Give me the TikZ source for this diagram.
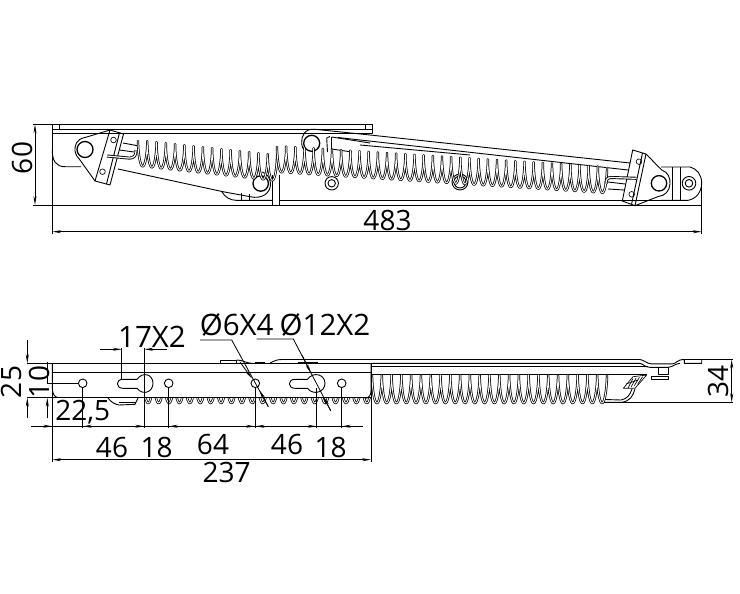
\documentclass[tikz,border=0pt]{standalone}
\usepackage{fontspec}
\setmainfont{Open Sans}
\usetikzlibrary{arrows.meta}
\tikzset{
	part/.style={line width=0.9pt, line join=round},
	fine/.style={line width=0.65pt, line join=round},
	extline/.style={line width=0.8pt},
	dimline/.style={line width=0.8pt, {Stealth[length=9pt,width=3pt]}-{Stealth[length=9pt,width=3pt]}},
	dimarrow/.style={line width=0.8pt, -{Stealth[length=9pt,width=3pt]}},
	dimtext/.style={font=\fontsize{28}{28}\selectfont, inner sep=0pt},
	widetext/.style={font=\fontsize{29.5}{29.5}\selectfont, inner sep=0pt},
	coil/.style={line width=0.75pt, double=white, double distance=0.9pt, line join=round}
}
\newcommand{\coilspring}[6]{
	\draw[coil] plot[domain=0:360*#5, samples=36*#5+1, variable=\t]
		({#1+\t/(360*#5)*(#3-#1)-1.6*sin(\t)}, {#2+\t/(360*#5)*(#4-#2)-#6*cos(\t)});
}
\begin{document}
\begin{tikzpicture}[x=1pt,y=-1pt]
	\useasboundingbox (0,0) rectangle (740,594);

	\draw[part] (52.3,124.3) rectangle (372,133);
	\draw[part] (52.3,129) -- (372,129);
	\draw[part] (59.3,124.3) -- (59.3,129);
	\draw[part] (365,124.3) -- (365,129);
	\draw[part] (52.3,133) -- (52.3,205);
	\draw[part] (52.3,150) .. controls (52.3,161) and (56,166.7) .. (65,166.7) -- (81,166.7);
	\draw[part] (52.3,205) -- (702,205);

	\draw[part] (222,192) .. controls (225,197) and (230,200.3) .. (236,200.3) -- (272.3,200.3);
	\draw[part] (241,193) -- (241,200.3);
	\draw[part] (249,194) -- (249,200.3);
	\draw[part] (272.3,175) -- (272.3,205);
	\draw[part] (279.3,175) -- (279.3,205);
	\draw[part] (279.3,200.3) -- (688,200.3);

	\draw[part] (118,169) -- (223,191.7) -- (250,196.7) .. controls (262,199.5) and (271,193) .. (270.5,183.3) .. controls (270,177) and (266,173) .. (262,172);
	\draw[part, line width=1.3pt] (260.7,183.5) circle (7.7);

	\draw[part] (110,130) -- (85,137.5) .. controls (76,139) and (74.5,146) .. (75,151) .. controls (76,155) and (77.5,158) .. (80,160) -- (95,181);
	\draw[part] (110,130) -- (123.5,134) -- (110,185) -- (95,181) -- cycle;
	\draw[part] (119.5,132.8) -- (106.5,184);
	\draw[part, line width=1.3pt] (85,149.5) circle (8);
	\draw[fine] (113.5,140) circle (2.8);
	\draw[fine] (102.5,171.7) circle (2.8);
	\draw[part] (123,143) -- (139,146);
	\draw[part] (119.5,150) -- (134,152);
	\draw[part, double=white, double distance=1.2pt] (107,156) -- (128,158) .. controls (135,158.5) and (136,155) .. (136,150);

	\draw[part] (315,129.3) -- (370,135) -- (630,163);
	\draw[part] (338,137.5) -- (628,170);
	\draw[part] (360,145) -- (470,155);
	\draw[part] (315,129.3) .. controls (305,128) and (301,136) .. (301.7,143) .. controls (302,147) and (303,149) .. (305,151);
	\draw[part, line width=1.3pt] (311.7,143.3) circle (8);
	\draw[part] (330,136.5) -- (326.7,138) -- (327.5,152);
	\draw[part] (331.7,137) -- (331.7,150);
	\draw[part] (331.7,137) -- (370,143);
	\draw[part] (331.7,149) -- (352,152);
	\draw[part] (331.7,183.3) circle (6.7);
	\draw[part] (331.7,183.3) circle (3.7);
	\draw[part] (460,182) circle (8);
	\draw[part] (460,182) circle (6);

	\coilspring{138}{153}{277}{168}{15}{12.8}
	\coilspring{277}{159}{607}{180}{36}{13}

	\draw[part] (646,154) -- (661.7,170) .. controls (668,172) and (670.5,178) .. (670,184) .. controls (669.5,191) and (665,196) .. (658.3,196.5) -- (635,205.7);
	\draw[part] (632.7,150) -- (646,154) -- (635,205.7) -- (622.3,201) -- cycle;
	\draw[part] (642.5,153) -- (631.5,204.5);
	\draw[part, line width=1.3pt] (659,183.3) circle (7.7);
	\draw[fine] (639,161.7) circle (2.8);
	\draw[fine] (631.7,194.3) circle (2.8);
	\draw[part, double=white, double distance=1.2pt] (636.5,178.3) -- (611,177.5) .. controls (607,177.5) and (606,180) .. (606,184);
	\draw[part] (608,182) -- (625,184);
	\draw[part] (608,189) -- (624,190);
	\draw[part] (661,167) -- (690,167) .. controls (697,168.5) and (701.7,175) .. (701.7,183) .. controls (701.7,192) and (696,199) .. (688,200.3) -- (661,200.3);
	\draw[part] (672.3,167) -- (672.3,200.3);
	\draw[part] (680.7,167) -- (680.7,200.3);
	\draw[part] (689,183.3) circle (6.8);
	\draw[part] (689,183.3) circle (3.8);

	\draw[extline] (33,124.3) -- (52.3,124.3);
	\draw[extline] (33,205) -- (52.3,205);
	\draw[extline] (52.3,205) -- (52.3,234);
	\draw[extline] (701.7,183) -- (701.7,234);
	\draw[dimline] (35,124.3) -- (35,205);
	\draw[dimline] (52.3,231.7) -- (701.7,231.7);
	\node[dimtext, rotate=90] (heighttext) at (22,158) {60};
	\node[dimtext] (widthtext) at (387.5,220) {483};

	\draw[part] (27,363.3) -- (371,363.3);
	\draw[part] (52.3,372.3) -- (371,372.3);
	\draw[part] (27,397.7) -- (372,397.7);
	\draw[part] (52.3,363.3) -- (52.3,388) .. controls (52.3,393) and (54,397) .. (58,397.7);
	\draw[part] (371,363.3) -- (371,391) .. controls (371,395) and (369,398) .. (365,398.5);
	\draw[part] (371,366.7) -- (648,366.7);
	\draw[part] (371,374.3) -- (646.7,374.3);
	\draw[part] (220,360) rectangle (236.7,363.3);
	\draw[part] (236.7,360) .. controls (243,360) and (246,363.3) .. (252,363.3);
	\draw[part, line width=1.6pt] (255,362.4) -- (265,362.4);
	\draw[part] (270,363) .. controls (274,361) and (277,359.5) .. (281.7,359.5) -- (640,359.5) .. controls (644,360) and (647,363.8) .. (651,363.8) -- (672.7,363.8) .. controls (676,363.8) and (677,359.5) .. (684.3,359.5) -- (701.7,359.5) -- (701.7,363.3) -- (684.3,363.3) -- (684.3,359.5);
	\draw[part, line width=1.6pt] (298,362.4) -- (317.7,362.4);
	\draw[part] (371,363.3) -- (640,363.3) .. controls (643,364) and (645,367.3) .. (650,367.3) -- (668.3,367.3) .. controls (672,367.3) and (676,363.3) .. (680,363.3);
	\draw[part] (658.3,367.3) -- (658.3,374.3) -- (668.3,374.3) -- (668.3,367.3);
	\draw[part] (651.7,376) rectangle (668.3,379.3);

	\draw[fine] (633,376.7) -- (646.7,375) -- (635,388.3) -- (623.3,388.3) -- cycle;
	\foreach \i in {0,1,2,3} {
		\draw[fine] (628+\i*3.2,388-\i*1.2) -- (633+\i*3.2,378.5-\i*0.6);
	}
	\draw[fine] (626,384) -- (638,380);
	\draw[part] (605,399.5) -- (621,400) .. controls (627,399) and (630,395) .. (632,389);
	\draw[part] (605,402.3) -- (622,402.3) .. controls (630,401) and (633,396) .. (635,389);

	\draw[part] (600,402.3) -- (733,402.3);
	\draw[extline] (701.7,359.5) -- (733,359.5);

	\draw[part] (82.7,383.3) circle (4.3);
	\draw[part] (168.7,383.3) circle (4.3);
	\draw[part] (255.3,383.3) circle (4.3);
	\draw[part] (341.7,383.3) circle (4.3);
	\draw[part] (137,379.3) -- (123,379.3) .. controls (115.5,379.3) and (115.5,388.3) .. (123,388.3) -- (137,388.3) .. controls (143,396) and (153,392) .. (153,383.3) .. controls (153,374.5) and (143,371) .. (137,379.3);
	\draw[part] (307.5,379.3) -- (295,379.3) .. controls (287.5,379.3) and (287.5,388.3) .. (295,388.3) -- (307.5,388.3) .. controls (313.5,396) and (325,392) .. (325,383.3) .. controls (325,374.5) and (313.5,371) .. (307.5,379.3);

	\draw[part] (108,398) .. controls (111,402) and (115,404.5) .. (119,405) -- (135,404.3) -- (138,398);
	\draw[part] (119.3,402.5) -- (136,402.5);

	\coilspring{372}{389}{607}{389}{24}{14}
	\begin{scope}
		\clip (137,398.2) rectangle (372,410);
		\coilspring{143}{389}{372}{389}{22}{14}
	\end{scope}

	\draw[dimarrow] (27.3,340) -- (27.3,363.3);
	\draw[dimarrow] (27.3,418) -- (27.3,397.7);
	\draw[extline] (47.3,361.7) -- (47.3,383.3) -- (79,383.3);
	\draw[dimarrow] (47.3,418) -- (47.3,397.7);
	\draw[extline] (52.3,363.3) -- (52.3,462);
	\draw[extline] (371,363.3) -- (371,462);
	\draw[dimline] (52.3,459.7) -- (371,459.7);
	\draw[extline] (82.7,387) -- (82.7,428);
	\draw[extline] (121.7,348) -- (121.7,379.5);
	\draw[extline] (144.3,348) -- (144.3,428);
	\draw[extline] (168.7,387) -- (168.7,428);
	\draw[extline] (255.3,387) -- (255.3,428);
	\draw[extline] (316.7,388) -- (316.7,428);
	\draw[extline] (341.7,387) -- (341.7,428);

	\draw[extline] (31,426.3) -- (363,426.3);
	\draw[dimarrow] (40,426.3) -- (52.3,426.3);
	\draw[dimarrow] (94,426.3) -- (82.7,426.3);
	\draw[dimarrow] (130,426.3) -- (144.3,426.3);
	\draw[dimarrow] (180,426.3) -- (168.7,426.3);
	\draw[dimarrow] (242,426.3) -- (255,426.3);
	\draw[dimarrow] (267,426.3) -- (255.6,426.3);
	\draw[dimarrow] (304,426.3) -- (316.7,426.3);
	\draw[dimarrow] (353,426.3) -- (341.7,426.3);
	\draw[dimarrow] (100,349.3) -- (121.7,349.3);
	\draw[dimarrow] (166.7,349.3) -- (144.3,349.3);

	\draw[extline] (200,340) -- (231.7,340) -- (268.3,406.7);
	\draw[dimarrow] (240,362) -- (251.7,378.3);
	\draw[dimarrow] (268.3,406.7) -- (259.3,390);
	\draw[extline] (256.7,339) -- (293.3,339) -- (330.7,410.7);
	\draw[dimarrow] (302,355) -- (311,373.3);
	\draw[dimarrow] (330.7,410.7) -- (323.3,396.7);

	\draw[dimline] (731.7,359.5) -- (731.7,402.3);

	\node[dimtext, rotate=90] (plateh) at (11,382) {25};
	\node[dimtext, rotate=90] (slotv) at (39,382) {10};
	\node[dimtext] (holex) at (82.7,411.7) {22,5};
	\node[widetext] (slotw) at (152,337) {17X2};
	\node[widetext] (holed) at (236.7,325) {Ø6X4};
	\node[widetext] (slotd) at (325,325) {Ø12X2};
	\node[dimtext] (firstpitch) at (112,447.7) {46};
	\node[dimtext] (firstgap) at (156.7,447.7) {18};
	\node[dimtext] (midpitch) at (213,444) {64};
	\node[dimtext] (secondpitch) at (287,444) {46};
	\node[dimtext] (secondgap) at (330.7,447.7) {18};
	\node[dimtext] (lengthtext) at (226.7,472) {237};
	\node[dimtext, rotate=90] (depthtext) at (718,381.7) {34};
\end{tikzpicture}
\end{document}
